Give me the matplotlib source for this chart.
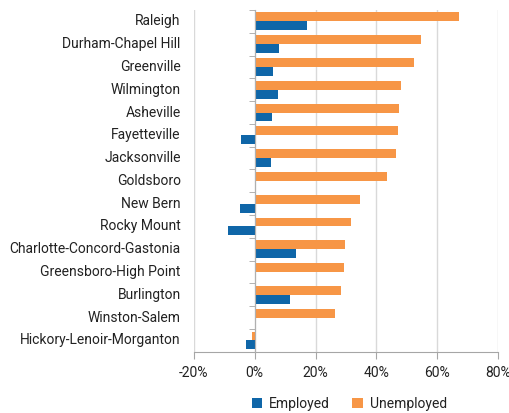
import matplotlib
matplotlib.use("Agg")
import matplotlib.pyplot as plt
import numpy as np
from matplotlib.ticker import FuncFormatter, FixedLocator

plt.rcParams['font.family'] = ['Roboto', 'DejaVu Sans']

categories = ["Raleigh", "Durham-Chapel Hill", "Greenville", "Wilmington", "Asheville",
              "Fayetteville", "Jacksonville", "Goldsboro", "New Bern", "Rocky Mount",
              "Charlotte-Concord-Gastonia", "Greensboro-High Point", "Burlington",
              "Winston-Salem", "Hickory-Lenoir-Morganton"]
unemployed = [67.0, 54.5, 52.4, 47.9, 47.5, 47.2, 46.5, 43.3, 34.5, 31.7, 29.7, 29.4, 28.5, 26.4, -0.9]
employed = [17.2, 7.9, 6.1, 7.8, 5.7, -4.5, 5.4, 0.4, -4.9, -8.7, 13.7, 0.0, 11.5, 0.4, -3.0]
xticks = [-20, 0, 20, 40, 60, 80]

blue = "#0f66a8"
orange = "#f79646"
grid_c = "#d9d9d9"
text_c = "#222222"

fig = plt.figure(figsize=(5.10, 4.13), dpi=100)
ax = fig.add_axes([0.380, 0.148, 0.597, 0.828])

y = np.arange(len(categories))
h = 0.39
ax.barh(y - h / 2, unemployed, height=h, color=orange, label="Unemployed", zorder=3)
ax.barh(y + h / 2, employed, height=h, color=blue, label="Employed", zorder=3)

ax.set_xlim(-20, 80)
ax.set_ylim(len(categories) - 0.5, -0.5)
ax.xaxis.set_major_locator(FixedLocator(xticks))
ax.xaxis.set_major_formatter(FuncFormatter(lambda v, p: f"{int(v)}%"))
ax.grid(axis='x', color=grid_c, lw=1, zorder=0)

for s in ['top', 'right']:
    ax.spines[s].set_visible(False)
ax.spines['bottom'].set_color("#a6a6a6")
ax.spines['left'].set_position(('data', 0))
ax.spines['left'].set_color("#b0b0b0")
ax.spines['left'].set_zorder(4)

ax.set_yticks([])
ax.yaxis.set_minor_locator(FixedLocator(np.arange(len(categories) + 1) - 0.5))
ax.tick_params(axis='y', which='minor', length=4, color="#a6a6a6", direction='out')
ax.tick_params(axis='x', length=5, color="#a6a6a6", labelsize=10, labelcolor=text_c, pad=5)

tr = ax.get_yaxis_transform()
for i, name in enumerate(categories):
    ax.text(-0.043, i, name, transform=tr, ha='right', va='center', fontsize=10, color=text_c)

handles, labels = ax.get_legend_handles_labels()
fig.legend(handles[::-1], labels[::-1], loc='lower center', bbox_to_anchor=(0.685, -0.025), ncol=2,
           frameon=False, fontsize=10, handlelength=0.75, handleheight=0.75,
           columnspacing=1.6, handletextpad=0.5, labelcolor=text_c)

fig.savefig("out.png", dpi=100)
